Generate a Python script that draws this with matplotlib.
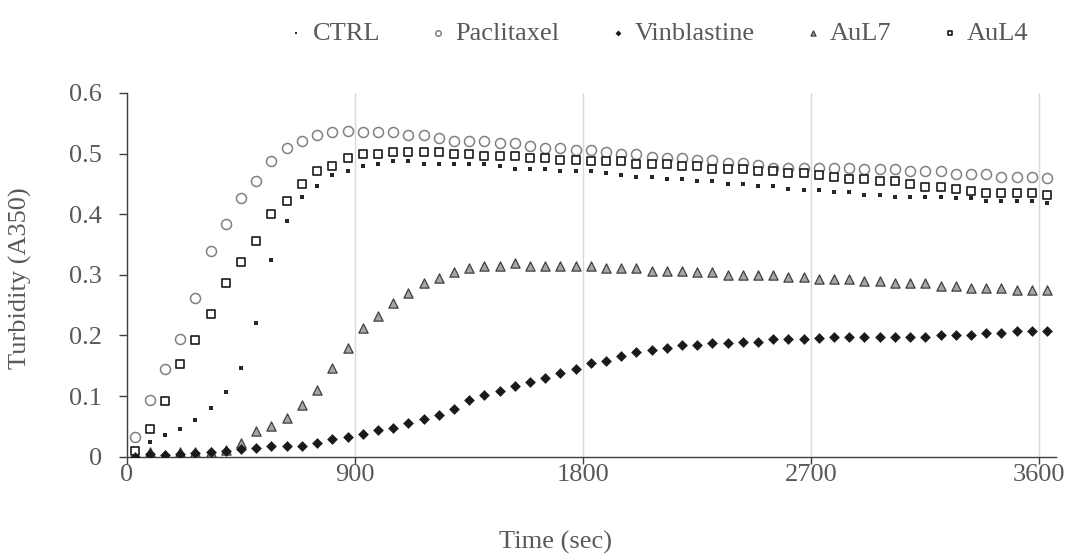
import matplotlib
matplotlib.use('Agg')
import matplotlib.pyplot as plt
import numpy as np

# readings every 60 s, first read ~30 s after start
time_sec = 30 + 60 * np.arange(61)

ctrl = [0.012, 0.025, 0.035, 0.046, 0.061, 0.081, 0.106, 0.146, 0.221, 0.325, 0.389, 0.429, 0.447, 0.465, 0.472, 0.480,
        0.483, 0.487, 0.487, 0.483, 0.483, 0.483, 0.483, 0.483, 0.479, 0.475, 0.475, 0.475, 0.471, 0.471, 0.471,
        0.468, 0.464, 0.461, 0.461, 0.458, 0.458, 0.454, 0.454, 0.449, 0.449, 0.446, 0.446, 0.442, 0.440, 0.440,
        0.436, 0.436, 0.432, 0.432, 0.429, 0.429, 0.429, 0.429, 0.426, 0.426, 0.421, 0.421, 0.421, 0.421, 0.418]

paclitaxel = [0.033, 0.094, 0.144, 0.194, 0.262, 0.340, 0.384, 0.427, 0.455, 0.488, 0.509, 0.521, 0.531, 0.535, 0.538, 0.535,
              0.535, 0.535, 0.531, 0.531, 0.526, 0.520, 0.520, 0.520, 0.517, 0.517, 0.513, 0.509, 0.509, 0.506, 0.506,
              0.502, 0.499, 0.499, 0.495, 0.492, 0.492, 0.490, 0.490, 0.485, 0.485, 0.481, 0.477, 0.477, 0.477, 0.477,
              0.477, 0.477, 0.474, 0.474, 0.474, 0.471, 0.471, 0.471, 0.466, 0.466, 0.466, 0.462, 0.462, 0.462, 0.459]

vinblastine = [0.0, 0.004, 0.003, 0.005, 0.006, 0.007, 0.009, 0.012, 0.015, 0.018, 0.018, 0.018, 0.023, 0.029, 0.033, 0.038,
               0.044, 0.048, 0.055, 0.062, 0.069, 0.079, 0.094, 0.102, 0.108, 0.116, 0.123, 0.130, 0.138, 0.144, 0.155,
               0.158, 0.166, 0.172, 0.176, 0.180, 0.184, 0.184, 0.187, 0.187, 0.190, 0.190, 0.194, 0.194, 0.194, 0.195,
               0.198, 0.198, 0.198, 0.198, 0.198, 0.198, 0.198, 0.201, 0.201, 0.201, 0.204, 0.204, 0.208, 0.208, 0.208]

aul7 = [0.0, 0.007, 0.003, 0.008, 0.008, 0.008, 0.011, 0.023, 0.043, 0.050, 0.063, 0.086, 0.110, 0.147, 0.179, 0.212,
        0.232, 0.254, 0.270, 0.287, 0.294, 0.305, 0.311, 0.315, 0.315, 0.319, 0.315, 0.315, 0.315, 0.315, 0.315,
        0.311, 0.311, 0.311, 0.307, 0.307, 0.307, 0.304, 0.304, 0.300, 0.300, 0.300, 0.300, 0.296, 0.296, 0.293,
        0.293, 0.293, 0.289, 0.290, 0.286, 0.286, 0.287, 0.282, 0.282, 0.278, 0.278, 0.279, 0.275, 0.275, 0.275]

aul4 = [0.010, 0.046, 0.092, 0.153, 0.193, 0.235, 0.286, 0.321, 0.356, 0.400, 0.421, 0.449, 0.471, 0.479, 0.493, 0.500,
        0.500, 0.503, 0.503, 0.503, 0.503, 0.500, 0.500, 0.496, 0.496, 0.496, 0.492, 0.492, 0.490, 0.490, 0.487,
        0.487, 0.487, 0.483, 0.483, 0.483, 0.479, 0.479, 0.475, 0.475, 0.475, 0.471, 0.471, 0.468, 0.468, 0.464,
        0.461, 0.458, 0.458, 0.454, 0.454, 0.449, 0.445, 0.445, 0.442, 0.439, 0.435, 0.435, 0.435, 0.435, 0.432]

x_ticks = [0, 900, 1800, 2700, 3600]
y_ticks = [0, 0.1, 0.2, 0.3, 0.4, 0.5, 0.6]
y_tick_labels = ['0', '0.1', '0.2', '0.3', '0.4', '0.5', '0.6']

text_col = '#595959'
axis_col = '#404040'
plt.rcParams['font.family'] = ['Liberation Serif', 'DejaVu Serif']

fig = plt.figure(figsize=(10.73, 5.6), dpi=100)
ax = fig.add_axes([0.1184, 0.1845, 0.8656, 0.6495])

ax.scatter(time_sec, ctrl, marker='s', s=6, color='#262626', linewidths=0, label='CTRL', zorder=3)
ax.scatter(time_sec, paclitaxel, marker='o', s=52, facecolors='white', edgecolors='#808080',
           linewidths=1.1, label='Paclitaxel', zorder=3)
ax.scatter(time_sec, vinblastine, marker='D', s=30, color='#1a1a1a', linewidths=0, label='Vinblastine', zorder=4)
ax.scatter(time_sec, aul7, marker='^', s=44, facecolors='#a6a6a6', edgecolors='#3f3f3f',
           linewidths=0.9, label='AuL7', zorder=3)
ax.scatter(time_sec, aul4, marker='s', s=30, facecolors='white', edgecolors='#1a1a1a',
           linewidths=1.2, label='AuL4', zorder=3)

ax.set_xlim(0, 3665)
ax.set_ylim(0, 0.6)
ax.set_xticks(x_ticks)
ax.set_yticks(y_ticks)
ax.set_yticklabels(y_tick_labels)
ax.grid(axis='x', color='#d9d9d9', linewidth=1.0, zorder=0)
ax.set_axisbelow(True)

for side in ['top', 'right']:
    ax.spines[side].set_visible(False)
for side in ['left', 'bottom']:
    ax.spines[side].set_color(axis_col)
    ax.spines[side].set_linewidth(1.0)

ax.tick_params(axis='both', direction='out', width=1.0, color=axis_col,
               labelsize=19, labelcolor=text_col)
ax.tick_params(axis='y', length=6, pad=12)
ax.tick_params(axis='x', length=5, pad=0)

ax.set_xlabel('Time (sec)', fontsize=19, color=text_col)
ax.set_ylabel('Turbidity (A350)', fontsize=19, color=text_col)
ax.xaxis.set_label_coords(0.461, -0.205)
ax.yaxis.set_label_coords(-0.102, 0.49)

fig.legend(loc='center', bbox_to_anchor=(0.612, 0.941), ncol=5, frameon=False,
           fontsize=19, labelcolor=text_col, markerscale=0.55, handletextpad=0.25,
           columnspacing=1.8, handlelength=0.8, scatterpoints=1)

fig.savefig('out.png', dpi=100)
